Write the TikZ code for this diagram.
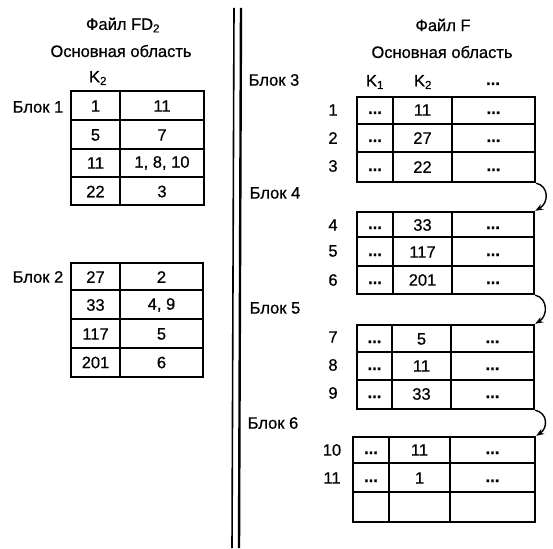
\documentclass[tikz,border=0pt]{standalone}
\usepackage{fontspec}
\setmainfont{Liberation Sans}[FakeBold=0.6]
\usetikzlibrary{arrows.meta}
\newcommand{\dts}{\textbf{...}}
\begin{document}
\begin{tikzpicture}[x=1pt,y=-1pt,
  txt/.style={font=\fontsize{16.5}{19}\selectfont, inner sep=0pt, anchor=center},
  dot/.style={font=\fontsize{16.5}{19}\selectfont, inner sep=0pt, anchor=base},
  tbl/.style={draw, line width=2.4pt, rectangle, inner sep=0pt},
  grid/.style={line width=1.2pt},
  link/.style={line width=1.4pt, -{Stealth[length=8pt,width=6pt]}}]
\useasboundingbox (0,0) rectangle (553,548);
\fill[white] (0,0) rectangle (553,548);

% ---------- left: file FD2 ----------
\node[txt] (fd2) at (123,25) {Файл FD\textsubscript{2}};
\node[txt] (oa1) at (121,51) {Основная область};
\node[txt] (k2l) at (98,78) {K\textsubscript{2}};

% table 1
\node[txt] (b1) at (38,107) {Блок 1};
\draw[grid] (120,91) -- (120,205);
\draw[grid] (71,120) -- (204,120) (71,149) -- (204,149) (71,177) -- (204,177);
\node[tbl, minimum width=133pt, minimum height=114pt] (t1) at (137.5,148) {};
\node[txt] (t1a1) at (95.5,106) {1};   \node[txt] (t1b1) at (162,106) {11};
\node[txt] (t1a2) at (95.5,135) {5};   \node[txt] (t1b2) at (162,135) {7};
\node[txt] (t1a3) at (95.5,163) {11};  \node[txt] (t1b3) at (162,163) {1, 8, 10};
\node[txt] (t1a4) at (95.5,191.5) {22};\node[txt] (t1b4) at (162,191.5) {3};

% table 2
\node[txt] (b2) at (38,277) {Блок 2};
\draw[grid] (120,263) -- (120,377);
\draw[grid] (71,290) -- (203,290) (71,319) -- (203,319) (71,348) -- (203,348);
\node[tbl, minimum width=132pt, minimum height=114pt] (t2) at (137,320) {};
\node[txt] (t2a1) at (95.5,277) {27};  \node[txt] (t2b1) at (161.5,277) {2};
\node[txt] (t2a2) at (95.5,305) {33};  \node[txt] (t2b2) at (161.5,305) {4, 9};
\node[txt] (t2a3) at (95.5,334) {117}; \node[txt] (t2b3) at (161.5,334) {5};
\node[txt] (t2a4) at (95.5,362.5) {201};\node[txt] (t2b4) at (161.5,362.5) {6};

% ---------- double separator ----------
\coordinate (s1t) at (234,8);  \coordinate (s1b) at (232,548);
\coordinate (s2t) at (241,8);  \coordinate (s2b) at (239,548);
\draw[line width=1.6pt] (s1t) -- (s1b);
\draw[line width=2.4pt] (s2t) -- (s2b);

% ---------- right: file F ----------
\node[txt] (ff) at (443,25) {Файл F};
\node[txt] (oa2) at (442,52) {Основная область};
\node[txt] (b3) at (274,80) {Блок 3};
\node[txt] (k1r) at (375,82) {K\textsubscript{1}};
\node[txt] (k2r) at (423,82) {K\textsubscript{2}};
\node[dot] (dr) at (493,85) {\dts};

% table 3
\draw[grid] (393,97) -- (393,182) (452,97) -- (452,182);
\draw[grid] (357,124) -- (535,124) (357,152) -- (535,152);
\node[tbl, minimum width=178pt, minimum height=85pt] (t3) at (446,139.5) {};
\node[txt] (n1) at (333,110) {1};
\node[txt] (n2) at (333,138) {2};
\node[txt] (n3) at (333,166) {3};
\node[dot] (t3a1) at (375,114) {\dts}; \node[txt] (t3b1) at (422.5,110) {11};  \node[dot] (t3c1) at (493.5,114) {\dts};
\node[dot] (t3a2) at (375,142) {\dts}; \node[txt] (t3b2) at (422.5,138) {27};  \node[dot] (t3c2) at (493.5,142) {\dts};
\node[dot] (t3a3) at (375,171) {\dts}; \node[txt] (t3b3) at (422.5,167) {22};  \node[dot] (t3c3) at (493.5,171) {\dts};

% table 4
\node[txt] (b4) at (275,193) {Блок 4};
\draw[grid] (393,212) -- (393,294) (452,212) -- (452,294);
\draw[grid] (357,237) -- (534,237) (357,266) -- (534,266);
\node[tbl, minimum width=177pt, minimum height=82pt] (t4) at (445.5,253) {};
\node[txt] (n4) at (333,225) {4};
\node[txt] (n5) at (333,251) {5};
\node[txt] (n6) at (333,280) {6};
\node[dot] (t4a1) at (375,229) {\dts}; \node[txt] (t4b1) at (422.5,225) {33};  \node[dot] (t4c1) at (493,229) {\dts};
\node[dot] (t4a2) at (375,256) {\dts}; \node[txt] (t4b2) at (422.5,252) {117}; \node[dot] (t4c2) at (493,256) {\dts};
\node[dot] (t4a3) at (375,284) {\dts}; \node[txt] (t4b3) at (422.5,280) {201}; \node[dot] (t4c3) at (493,284) {\dts};

% table 5
\node[txt] (b5) at (275,308) {Блок 5};
\draw[grid] (392,325) -- (392,409) (451,325) -- (451,409);
\draw[grid] (357,352) -- (534,352) (357,380) -- (534,380);
\node[tbl, minimum width=177pt, minimum height=84pt] (t5) at (445.5,367) {};
\node[txt] (n7) at (333,337) {7};
\node[txt] (n8) at (333,365) {8};
\node[txt] (n9) at (333,393) {9};
\node[dot] (t5a1) at (374.5,343) {\dts}; \node[txt] (t5b1) at (421.5,339) {5};  \node[dot] (t5c1) at (492.5,343) {\dts};
\node[dot] (t5a2) at (374.5,370) {\dts}; \node[txt] (t5b2) at (421.5,366) {11}; \node[dot] (t5c2) at (492.5,370) {\dts};
\node[dot] (t5a3) at (374.5,398) {\dts}; \node[txt] (t5b3) at (421.5,394) {33}; \node[dot] (t5c3) at (492.5,398) {\dts};

% table 6
\node[txt] (b6) at (273,423) {Блок 6};
\draw[grid] (389,437) -- (389,522) (450,437) -- (450,522);
\draw[grid] (353,463) -- (535,463) (353,492) -- (535,492);
\node[tbl, minimum width=182pt, minimum height=85pt] (t6) at (444,479.5) {};
\node[txt] (n10) at (332,450) {10};
\node[txt] (n11) at (332,478) {11};
\node[dot] (t6a1) at (371,454) {\dts}; \node[txt] (t6b1) at (419.5,450) {11}; \node[dot] (t6c1) at (492.5,454) {\dts};
\node[dot] (t6a2) at (371,482) {\dts}; \node[txt] (t6b2) at (419.5,478) {1};  \node[dot] (t6c2) at (492.5,482) {\dts};

% ---------- links between blocks ----------
\draw[link] (t3.south east) .. controls (549,186) and (549,203) .. (t4.north east);
\draw[link] (t4.south east) .. controls (548,298) and (548,316) .. (t5.north east);
\draw[link] (t5.south east) .. controls (548,413) and (548,428) .. (t6.north east);
\end{tikzpicture}
\end{document}
